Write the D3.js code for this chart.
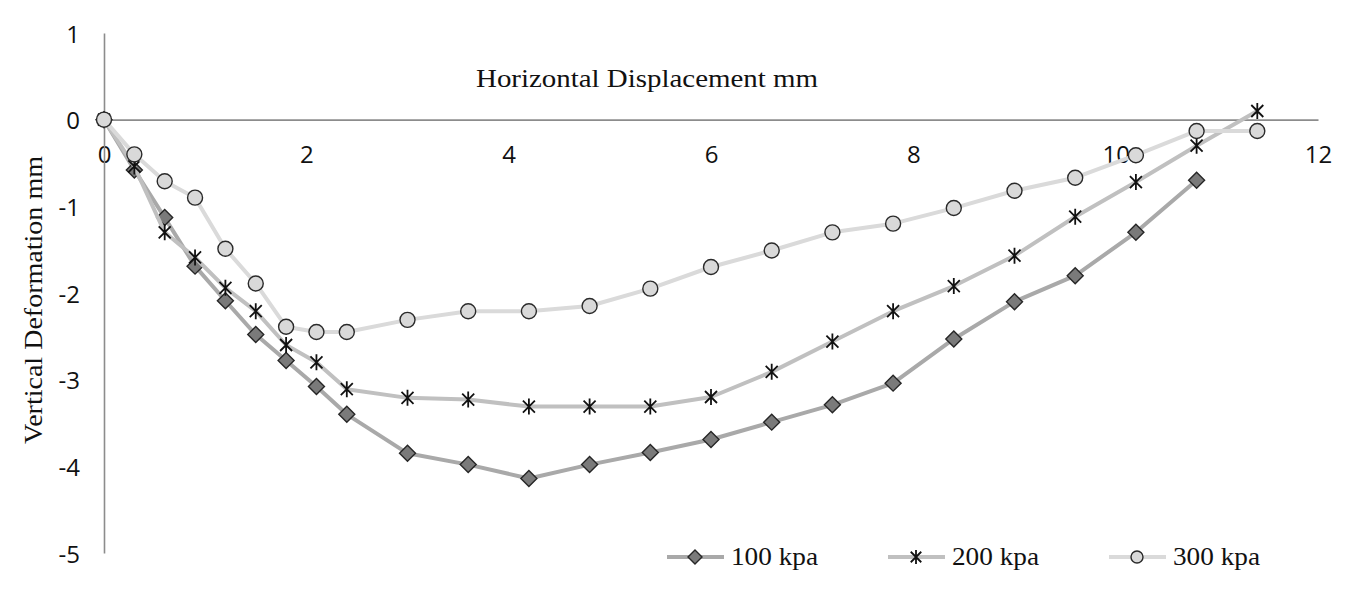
<!DOCTYPE html>
<html>
<head>
<meta charset="utf-8">
<script src="https://cdn.jsdelivr.net/npm/d3@7"></script>
<style>
  html, body { margin: 0; padding: 0; background: #fff; }
  svg { display: block; }
</style>
</head>
<body>
<svg id="chart" width="1366" height="589"></svg>
<script>
// ---- data ----
const xValues = [0, 0.3, 0.6, 0.9, 1.2, 1.5, 1.8, 2.1, 2.4, 3.0, 3.6, 4.2, 4.8, 5.4, 6.0, 6.6, 7.2, 7.8, 8.4, 9.0, 9.6, 10.2, 10.8, 11.4];
const kpa100 = [0, -0.58, -1.13, -1.69, -2.09, -2.48, -2.78, -3.08, -3.40, -3.85, -3.98, -4.14, -3.98, -3.84, -3.69, -3.49, -3.29, -3.04, -2.53, -2.10, -1.80, -1.30, -0.70];
const kpa200 = [0, -0.54, -1.30, -1.59, -1.94, -2.21, -2.60, -2.80, -3.11, -3.21, -3.23, -3.31, -3.31, -3.31, -3.20, -2.91, -2.56, -2.21, -1.92, -1.57, -1.12, -0.72, -0.30, 0.10];
const kpa300 = [0, -0.40, -0.71, -0.90, -1.49, -1.89, -2.39, -2.45, -2.45, -2.31, -2.21, -2.21, -2.15, -1.95, -1.70, -1.51, -1.30, -1.20, -1.02, -0.82, -0.67, -0.41, -0.13, -0.13];
const seriesNames = ["100 kpa", "200 kpa", "300 kpa"];
const xTicks = [0, 2, 4, 6, 8, 10, 12];
const yTicks = [1, 0, -1, -2, -3, -4, -5];
const xTitle = "Horizontal Displacement mm";
const yTitle = "Vertical Deformation mm";

// ---- styles ----
const styles = [
  { line: "#a9a9a9", marker: "diamond", fill: "#7a7a7a", stroke: "#262626" },
  { line: "#c0c0c0", marker: "star", fill: "none", stroke: "#111" },
  { line: "#dadada", marker: "circle", fill: "#d9d9d9", stroke: "#2a2a2a" }
];
const seriesData = [kpa100, kpa200, kpa300].map((vals, i) => ({
  name: seriesNames[i],
  style: styles[i],
  points: vals.map((v, j) => ({ x: xValues[j], y: v }))
}));

const svg = d3.select("#chart");
const x = d3.scaleLinear().domain([0, 12]).range([104, 1318]);
const y = d3.scaleLinear().domain([-5, 1]).range([553, 33]);

const serif = "'Liberation Serif', 'DejaVu Serif', serif";
const sans = "'Open Sans', 'Liberation Sans', sans-serif";

// axes
const xAxis = svg.append("g")
  .attr("font-size", null).attr("font-family", null)
  .attr("transform", `translate(0,${y(0)})`)
  .call(d3.axisBottom(x).tickValues(xTicks).tickSize(0).tickSizeOuter(0).tickFormat(d3.format("d")));
xAxis.attr("font-size", 24).attr("font-family", sans);
xAxis.select(".domain").attr("stroke", "#8c8c8c").attr("stroke-width", 1.6);
xAxis.selectAll("text")
  .attr("y", 43).attr("dy", 0).attr("fill", "#111");

const yAxis = svg.append("g")
  .attr("transform", `translate(${x(0)},0)`)
  .call(d3.axisLeft(y).tickValues(yTicks).tickSize(0).tickSizeOuter(0).tickFormat(d3.format("d")));
yAxis.attr("font-size", 24).attr("font-family", sans);
yAxis.select(".domain").attr("stroke", "#8c8c8c").attr("stroke-width", 1.6);
yAxis.selectAll("text")
  .attr("x", -24).attr("dy", "0.38em").attr("fill", "#111")
  .text(d => d < 0 ? "-" + Math.abs(d) : d);

// titles
function fitText(sel, width) {
  sel.attr("textLength", width).attr("lengthAdjust", "spacingAndGlyphs");
}
const xt = svg.append("text")
  .attr("x", 647).attr("y", 87)
  .attr("text-anchor", "middle")
  .attr("font-family", serif).attr("font-size", 26).attr("fill", "#111")
  .text(xTitle);
fitText(xt, 342);

const yt = svg.append("text")
  .attr("transform", `translate(42,${300}) rotate(-90)`)
  .attr("text-anchor", "middle")
  .attr("font-family", serif).attr("font-size", 26).attr("fill", "#111")
  .text(yTitle);
fitText(yt, 288);

// markers
function drawMarker(g, type, st, cx, cy, s) {
  if (type === "diamond") {
    g.append("path")
      .attr("d", `M${cx},${cy - s}L${cx + s},${cy}L${cx},${cy + s}L${cx - s},${cy}Z`)
      .attr("fill", st.fill).attr("stroke", st.stroke).attr("stroke-width", 1.4);
  } else if (type === "circle") {
    g.append("circle").attr("cx", cx).attr("cy", cy).attr("r", s)
      .attr("fill", st.fill).attr("stroke", st.stroke).attr("stroke-width", 1.4);
  } else {
    const a = s * 0.75;
    g.append("path")
      .attr("d", `M${cx},${cy - s}L${cx},${cy + s}M${cx - a},${cy - a}L${cx + a},${cy + a}M${cx - a},${cy + a}L${cx + a},${cy - a}`)
      .attr("fill", "none").attr("stroke", st.stroke).attr("stroke-width", 1.8);
  }
}

const line = d3.line().x(d => x(d.x)).y(d => y(d.y));
seriesData.forEach(s => {
  const g = svg.append("g");
  g.append("path").datum(s.points)
    .attr("d", line)
    .attr("fill", "none").attr("stroke", s.style.line)
    .attr("stroke-width", 4).attr("stroke-linejoin", "round");
  const size = s.style.marker === "circle" ? 7.5 : 8;
  s.points.forEach(p => drawMarker(g, s.style.marker, s.style, x(p.x), y(p.y), size));
});

// legend
const legendX = [667, 888, 1109];
const legendY = 557;
seriesData.forEach((s, i) => {
  const g = svg.append("g");
  const lx = legendX[i];
  g.append("line").attr("x1", lx).attr("x2", lx + 57).attr("y1", legendY).attr("y2", legendY)
    .attr("stroke", s.style.line).attr("stroke-width", 4);
  const sz = s.style.marker === "circle" ? 6 : 7;
  drawMarker(g, s.style.marker, s.style, lx + 28, legendY, sz);
  const t = g.append("text").attr("x", lx + 64).attr("y", legendY + 8)
    .attr("font-family", serif).attr("font-size", 26).attr("fill", "#111")
    .text(s.name);
  fitText(t, 87);
});
</script>
</body>
</html>
